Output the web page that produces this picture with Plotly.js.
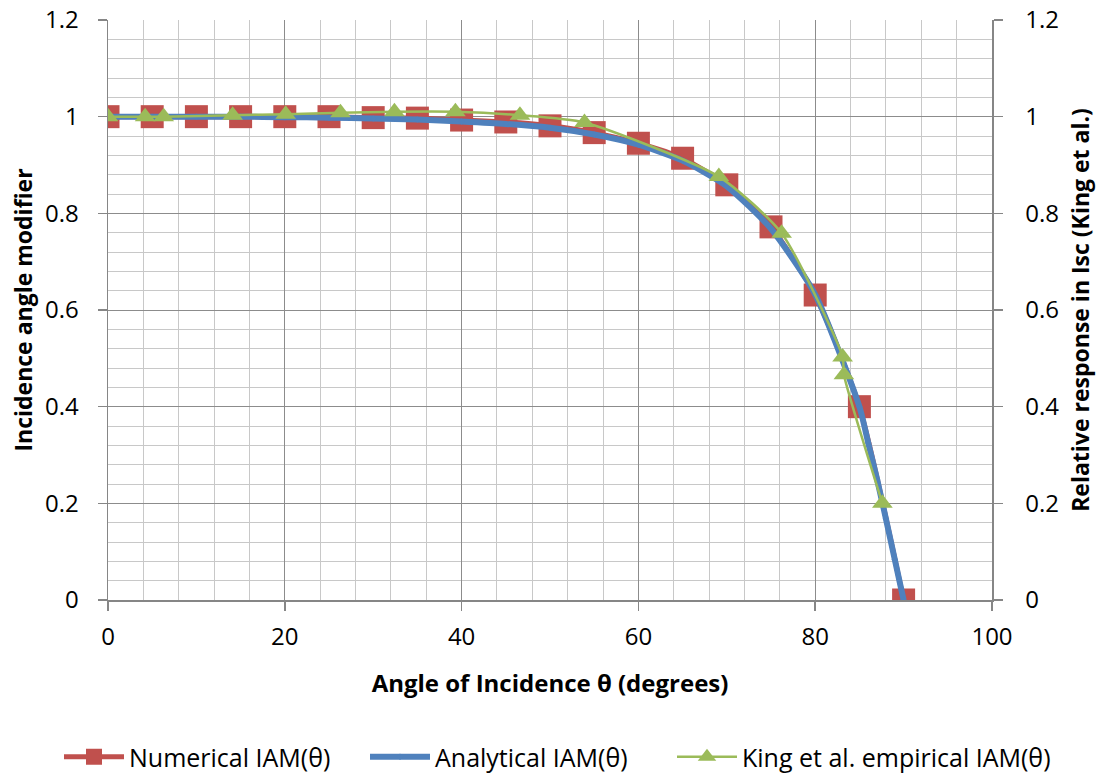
<!DOCTYPE html>
<html>
<head>
<meta charset="utf-8">
<script src="https://cdn.plot.ly/plotly-3.0.1.min.js"></script>
<style>html,body{margin:0;padding:0;background:#fff;}#chart{width:1101px;height:776px;}</style>
</head>
<body>
<div id="chart"></div>
<script>
// Numerical IAM (red squares)
const numAngle = [0,5,10,15,20,25,30,35,40,45,50,55,60,65,70,75,80,85,90];
const numIAM   = [1,1,1,1,1,1,0.998,0.997,0.993,0.989,0.981,0.967,0.945,0.914,0.859,0.772,0.631,0.40,0];

// Analytical IAM (blue thick line)
const anaAngle = [0,5,10,15,20,25,30,35,40,45,50,55,60,65,70,75,80,85,86,87,88,89,90];
const anaIAM   = [1,1,1,1,0.999,0.998,0.996,0.994,0.99,0.985,0.977,0.963,0.942,0.909,0.856,0.768,0.632,0.40,0.325,0.25,0.168,0.084,0];

// King et al. empirical IAM (green triangles)
const kingAngle = [0,4.2,6.3,14.1,20.1,26.3,32.4,39.3,46.6,53.9,69.1,76.2,83.1,83.25,87.6];
const kingIAM   = [1.0,1.0,1.0,1.003,1.005,1.008,1.01,1.01,1.003,0.988,0.876,0.759,0.503,0.466,0.20];

const xTicks = [0,20,40,60,80,100];
const yTicks = [0,0.2,0.4,0.6,0.8,1,1.2];
const yTickText = ['0','0.2','0.4','0.6','0.8','1','1.2'];

const RED = '#C0504D', BLUE = '#4F81BD', GREEN = '#9BBB59';
const FONT = 'Open Sans, Liberation Sans, sans-serif';

const traces = [
  {x:numAngle, y:numIAM, name:'Numerical IAM(θ)', type:'scatter', mode:'lines+markers',
   legend:'legend',
   line:{color:RED, width:5, shape:'spline', smoothing:0.6},
   marker:{symbol:'square', size:23, color:RED}},
  {x:anaAngle, y:anaIAM, name:'Analytical IAM(θ)', type:'scatter', mode:'lines+markers',
   legend:'legend2',
   line:{color:BLUE, width:6, shape:'spline', smoothing:0.6},
   marker:{symbol:'diamond', size:5, color:BLUE}},
  {x:kingAngle, y:kingIAM, name:'King et al. empirical IAM(θ)', type:'scatter', mode:'lines+markers',
   yaxis:'y2', legend:'legend3',
   line:{color:GREEN, width:2.5, shape:'spline', smoothing:0.6},
   marker:{symbol:'triangle-up', size:18, color:GREEN}}
];

function legendAt(leftPx) {
  return {orientation:'h', xref:'container', yref:'container', x:leftPx/1101, xanchor:'left',
          y:1-757/776, yanchor:'middle', itemwidth:60,
          font:{family:FONT, size:25, color:'#000'}, bgcolor:'rgba(0,0,0,0)'};
}

const layout = {
  width:1101, height:776,
  paper_bgcolor:'#fff', plot_bgcolor:'#fff',
  margin:{l:108, r:109, t:20, b:176},
  font:{family:FONT, size:24, color:'#000'},
  showlegend:true,
  legend:legendAt(59),
  legend2:legendAt(365),
  legend3:legendAt(672),
  xaxis:{range:[0,100], tickvals:xTicks, ticktext:xTicks.map(String),
         showgrid:true, gridcolor:'#8c8c8c', gridwidth:1,
         minor:{dtick:4, showgrid:true, gridcolor:'#c8c8c8', gridwidth:1, ticks:''},
         zeroline:false, showline:true, linecolor:'#868686', linewidth:1.5,
         ticks:'outside', ticklen:9, tickcolor:'#868686', tickwidth:1.5,
         ticklabelstandoff:6,
         tickfont:{family:FONT, size:24, color:'#000'},
         title:{text:'<b>Angle of Incidence θ (degrees)</b>', font:{family:FONT, size:24, color:'#000'}, standoff:24}},
  yaxis:{range:[0,1.2], tickvals:yTicks, ticktext:yTickText,
         showgrid:true, gridcolor:'#8c8c8c', gridwidth:1,
         minor:{dtick:0.04, showgrid:true, gridcolor:'#c8c8c8', gridwidth:1, ticks:''},
         zeroline:false, showline:true, linecolor:'#868686', linewidth:1.5,
         ticks:'outside', ticklen:9, tickcolor:'#868686', tickwidth:1.5,
         ticklabelstandoff:14,
         tickfont:{family:FONT, size:24, color:'#000'},
         title:{text:'<b>Incidence angle modifier</b>', font:{family:FONT, size:23, color:'#000'}, standoff:6}},
  yaxis2:{range:[0,1.2], tickvals:yTicks, ticktext:yTickText,
          overlaying:'y', side:'right', showgrid:false, zeroline:false,
          showline:true, linecolor:'#868686', linewidth:1.5,
          ticks:'outside', ticklen:9, tickcolor:'#868686', tickwidth:1.5,
          ticklabelstandoff:18,
          tickfont:{family:FONT, size:24, color:'#000'},
          title:{text:'<b>Relative response in Isc (King et al.)</b>', font:{family:FONT, size:23, color:'#000'}, standoff:14}}
};

Plotly.newPlot('chart', traces, layout, {staticPlot:true, displayModeBar:false});
</script>
</body>
</html>
